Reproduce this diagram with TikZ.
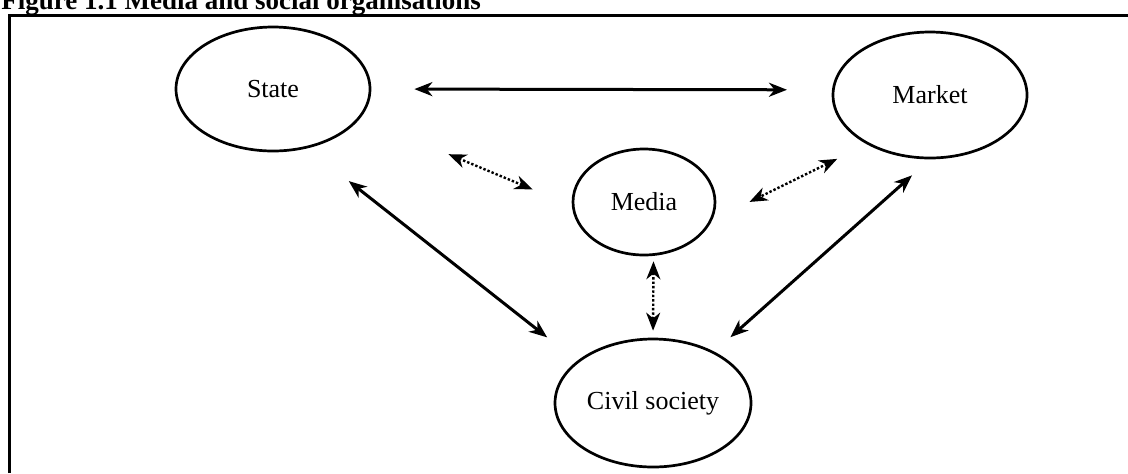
\documentclass[tikz,border=0pt]{standalone}
\usepackage{fontspec}
\setmainfont{Liberation Serif}
\usetikzlibrary{arrows.meta,shapes.geometric}
\tikzset{
  >={Stealth[length=9pt,width=7pt,inset=2.8pt]},
  org/.style={ellipse,draw,line width=1.35pt,inner sep=0pt,
    font=\fontsize{13pt}{15pt}\selectfont},
  link/.style={<->,line width=1.5pt,#1},
  link/.default=black,
  dotlink/.style={<->,line width=1.2pt,densely dotted},
}

\begin{document}
\begin{tikzpicture}[x=0.5pt,y=-0.5pt]
  \useasboundingbox (0,0) rectangle (1128,473);
  % caption and frame
  \node[anchor=base west,inner sep=0pt,font=\fontsize{13.5pt}{16pt}\selectfont\bfseries] (title) at (1,9.5) {Figure 1.1 Media and social organisations};
  \draw[line width=1.3pt] (9.5,473) -- (9.5,15.5) -- (1128,15.5);
  % organisations
  \node[org,minimum width=97pt,minimum height=62pt] (state) at (273,89) {State};
  \node[org,minimum width=97pt,minimum height=63pt] (market) at (930,95) {Market};
  \node[org,minimum width=71pt,minimum height=53pt] (media) at (644,202) {Media};
  \node[org,minimum width=98pt,minimum height=64pt] (civil) at (653,403) {Civil society};
  % relations
  \draw[link,shorten <=21.5pt,shorten >=22.5pt] (state.east) -- (market.177);
  \draw[link,shorten <=26.4pt,shorten >=19pt] (state.-60) -- (civil.151);
  \draw[link,shorten <=12pt,shorten >=10.8pt] (market.-90) -- (civil.40);
  % media in the middle
  \draw[dotlink,shorten <=47.5pt,shorten >=21.2pt] (state.-18) -- (media.183);
  \draw[dotlink,shorten <=16.5pt,shorten >=20.8pt] (market.-142) -- (media.-15);
  \draw[dotlink,shorten <=2.7pt,shorten >=3.5pt] (media.-80) -- (civil.north);
\end{tikzpicture}
\end{document}
